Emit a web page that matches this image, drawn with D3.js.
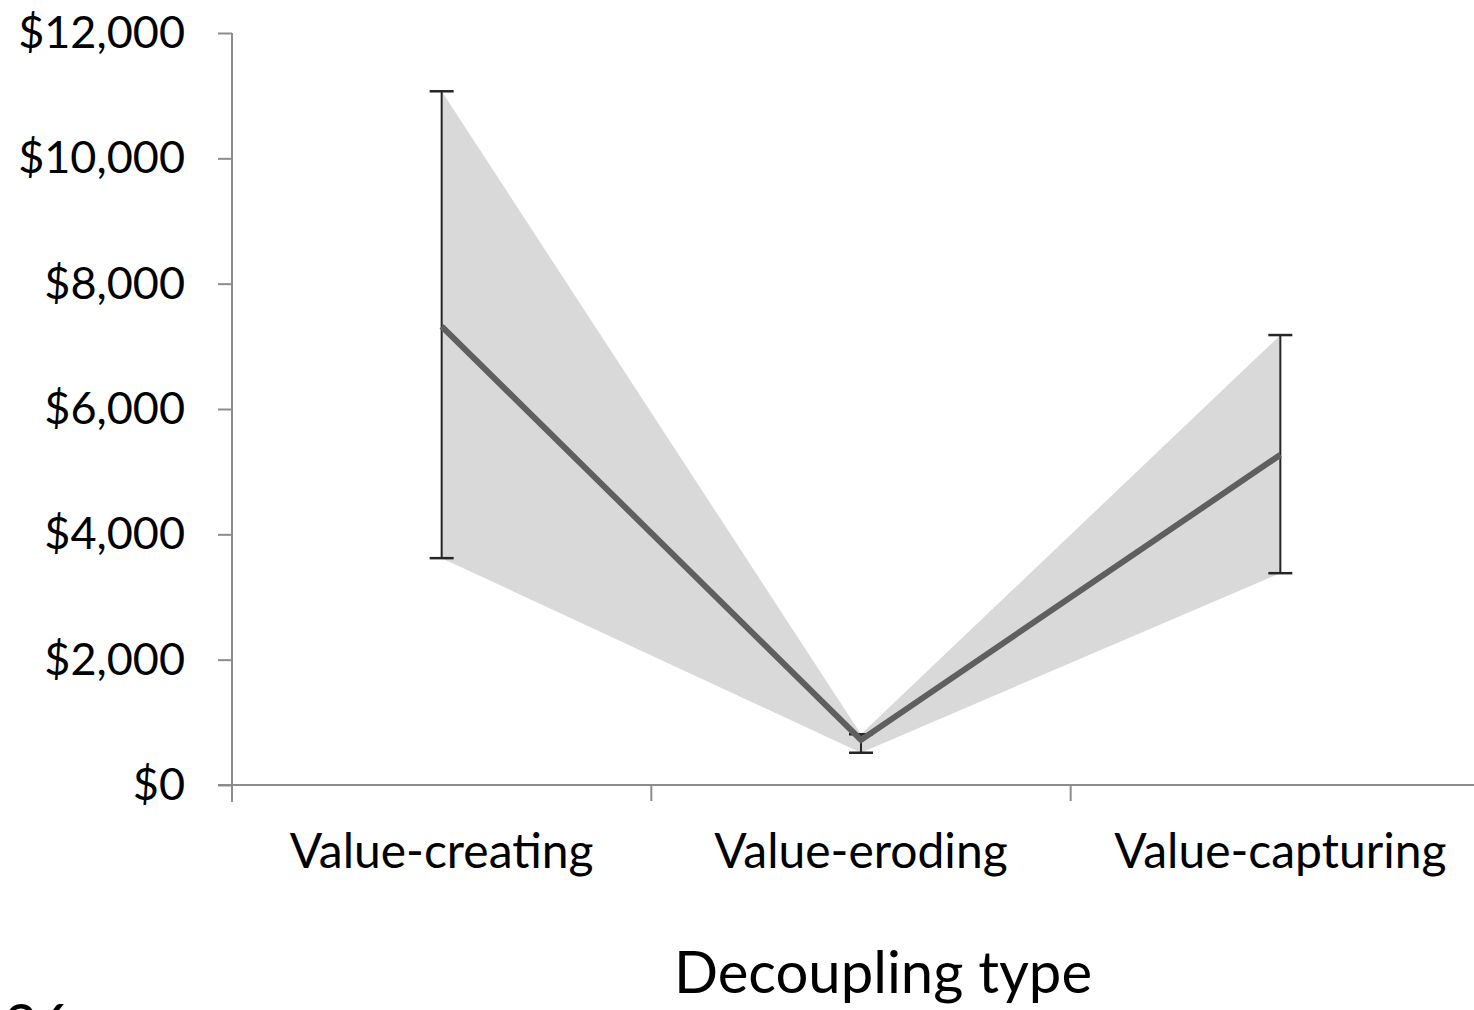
<!DOCTYPE html>
<html>
<head>
<meta charset="utf-8">
<script src="https://cdn.jsdelivr.net/npm/d3@7"></script>
<style>
  body { margin: 0; background: #fff; }
  svg { display: block; font-family: Lato, "Open Sans", sans-serif; }
</style>
</head>
<body>
<svg id="chart" width="1474" height="1010"></svg>
<script>
// values
let categories = ['Value-creating', 'Value-eroding', 'Value-capturing']
let means = [7320, 720, 5270]
let upper = [11070, 810, 7180]
let lower = [3620, 515, 3380]
let yTicks = [0, 2000, 4000, 6000, 8000, 10000, 12000]

let svg = d3.select('svg#chart')

let x = d3.scaleBand()
    .domain(categories)
    .range([232, 1490])

let y = d3.scaleLinear()
    .domain([0, 12000])
    .range([785, 33])

let cx = d => x(d) + x.bandwidth() / 2

// shaded band between upper and lower
let area = d3.area()
    .x((d, i) => cx(categories[i]))
    .y0((d, i) => y(lower[i]))
    .y1((d, i) => y(upper[i]))

svg.append('path')
    .datum(means)
    .attr('d', area)
    .attr('fill', '#d9d9d9')

// error bars
let bars = svg.append('g')
categories.forEach((c, i) => {
    bars.append('line')
        .attr('x1', cx(c)).attr('x2', cx(c))
        .attr('y1', y(upper[i])).attr('y2', y(lower[i]))
        .attr('stroke', '#262626').attr('stroke-width', 2)
    ;[upper[i], lower[i]].forEach(v => {
        bars.append('line')
            .attr('x1', cx(c) - 12).attr('x2', cx(c) + 12)
            .attr('y1', y(v)).attr('y2', y(v))
            .attr('stroke', '#262626').attr('stroke-width', 2.5)
    })
})

// mean line
let line = d3.line()
    .x((d, i) => cx(categories[i]))
    .y(d => y(d))

svg.append('path')
    .datum(means)
    .attr('d', line)
    .attr('fill', 'none')
    .attr('stroke', '#5f5f5f')
    .attr('stroke-width', 6)

// y axis
let yAxis = svg.append('g')
    .attr('transform', 'translate(232,0)')
    .call(d3.axisLeft(y)
        .tickValues(yTicks)
        .tickSize(14)
        .tickPadding(33)
        .tickFormat(d => '$' + d3.format(',')(d)))
yAxis.select('.domain').remove()
yAxis.append('line')
    .attr('y1', y(12000)).attr('y2', 802)
    .attr('stroke', '#8c8c8c').attr('stroke-width', 2)
yAxis.selectAll('.tick line').attr('stroke', '#8c8c8c').attr('stroke-width', 2)
yAxis.selectAll('.tick text')
    .attr('font-size', 45)
    .attr('fill', '#000')
    .attr('font-family', 'Lato, sans-serif')

// x axis
let xAxis = svg.append('g')
    .attr('transform', 'translate(0,785)')
xAxis.append('line')
    .attr('x1', 218).attr('x2', 1474)
    .attr('stroke', '#8c8c8c').attr('stroke-width', 2)
categories.slice(1).forEach(c => {
    xAxis.append('line')
        .attr('x1', x(c)).attr('x2', x(c))
        .attr('y1', 0).attr('y2', 16)
        .attr('stroke', '#8c8c8c').attr('stroke-width', 2)
})
xAxis.selectAll('text.cat')
    .data(categories)
    .enter()
    .append('text')
    .attr('class', 'cat')
    .attr('x', d => cx(d))
    .attr('y', 83)
    .attr('text-anchor', 'middle')
    .attr('font-size', 48)
    .attr('fill', '#000')
    .text(d => d)

// axis title
svg.append('text')
    .attr('x', 883)
    .attr('y', 993)
    .attr('text-anchor', 'middle')
    .attr('font-size', 58)
    .attr('fill', '#000')
    .text('Decoupling type')

// page number, mostly off the bottom edge
svg.append('text')
    .attr('x', 4)
    .attr('y', 1046)
    .attr('font-size', 58)
    .attr('fill', '#000')
    .text('26')
</script>
</body>
</html>
